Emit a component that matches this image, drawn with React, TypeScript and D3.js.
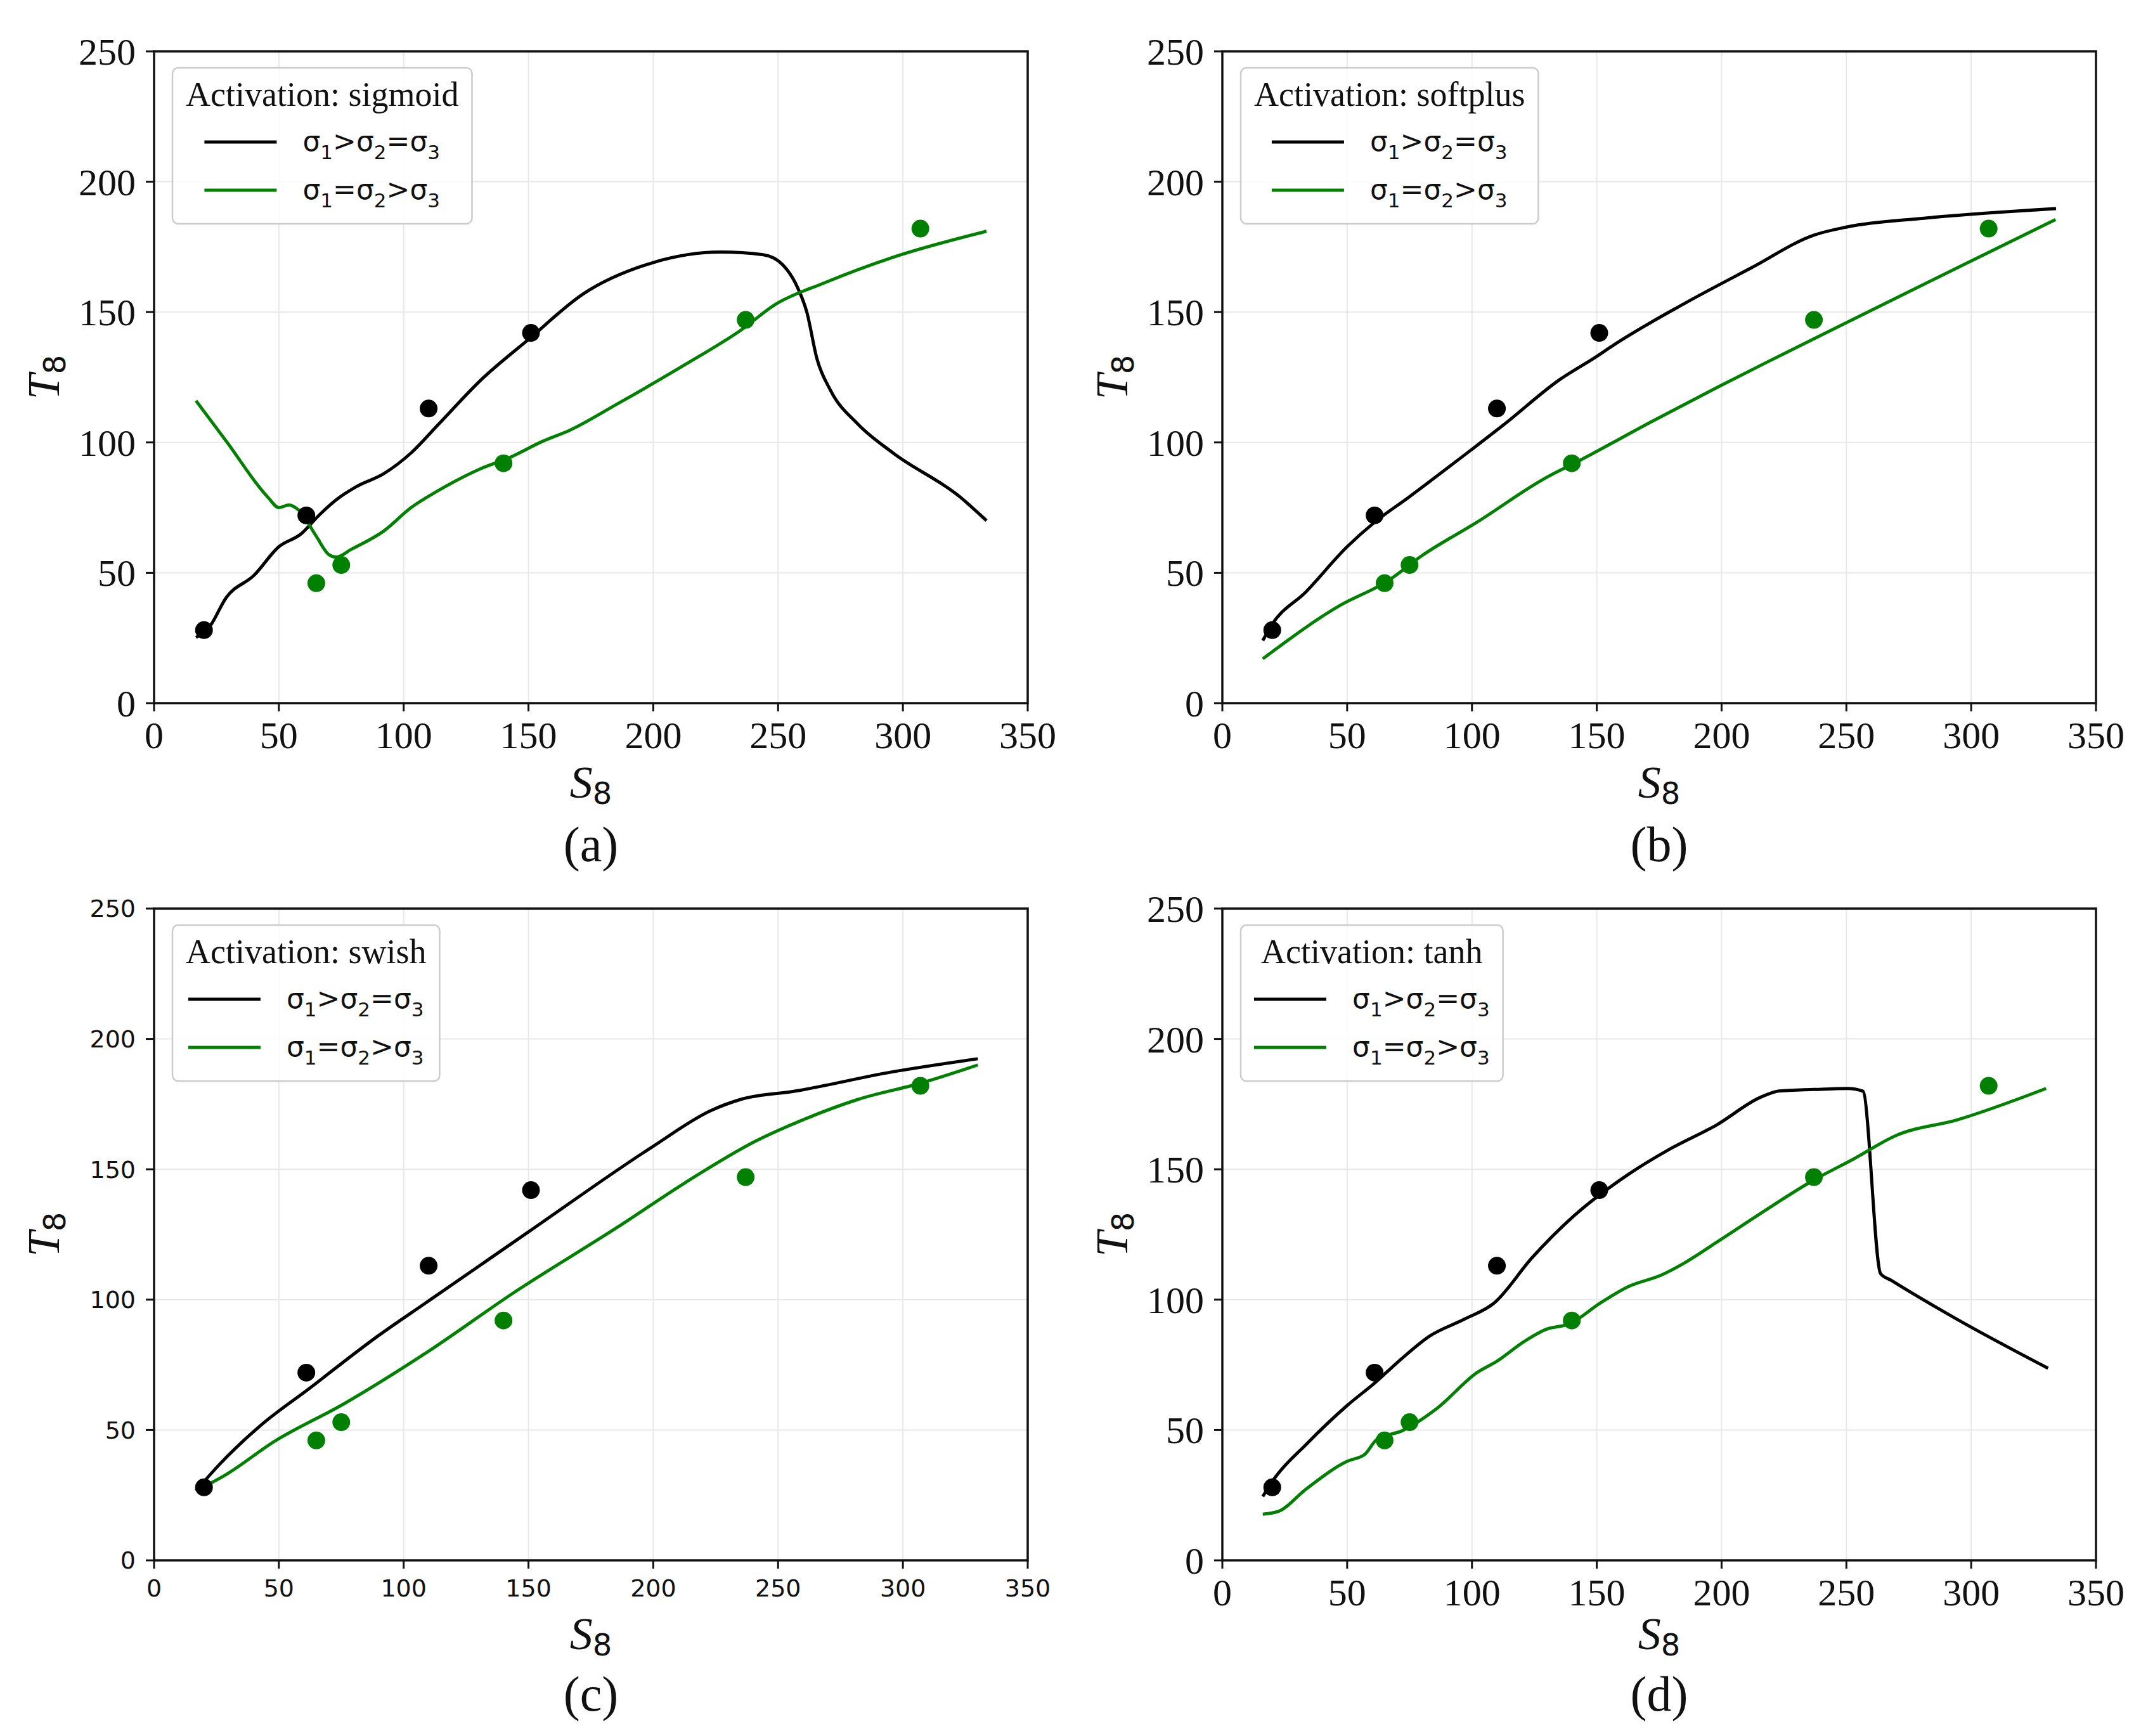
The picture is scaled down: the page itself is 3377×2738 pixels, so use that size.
import { useEffect, useRef } from "react"
import * as d3 from "d3"

const W = 3377
const H = 2738

// measured points (same in every panel)
const blackPtS = [20, 61, 110, 151]
const blackPtT = [28, 72, 113, 142]
const greenPtS = [65, 75, 140, 237, 307]
const greenPtT = [46, 53, 92, 147, 182]

// (a) sigmoid
const sigmoidBlackS = [16.8, 22, 29, 40, 50, 59, 66, 73, 81, 92, 103, 114, 131, 150, 172, 200, 227, 244, 252, 257, 261.5, 265.6, 271, 282, 296, 323, 333.5]
const sigmoidBlackT = [25.2, 29, 40.6, 49, 60, 65, 72, 78, 83, 88, 96, 107, 124, 139.5, 157, 169, 173, 172, 168, 161, 150, 132, 120, 107, 96, 79, 70]
const sigmoidGreenS = [16.8, 29, 45.6, 50, 54, 58, 65, 70, 73, 79, 92, 103, 114, 131, 142, 155.6, 166.6, 186, 213, 235, 249, 268, 296, 333.5]
const sigmoidGreenT = [116, 100.4, 79, 75, 76, 74, 64, 57, 56, 59, 66, 75, 81.6, 90, 94, 100.4, 104.7, 115, 130, 143, 153, 161, 171, 181]

// (b) softplus
const softplusBlackS = [16.2, 19.8, 33.5, 50, 61, 74.7, 99.5, 113, 135, 150, 157, 184.6, 212, 237, 250.5, 281, 334]
const softplusBlackT = [24, 30, 42.7, 60, 69.4, 79, 97, 107, 124, 133, 137.5, 153, 167, 179.5, 182.7, 186, 189.7]
const softplusGreenS = [16.2, 47, 66.5, 80, 102, 129.7, 143, 171, 198, 217.6, 239.6, 267, 294.5, 333.8]
const softplusGreenT = [17, 37.4, 47, 56.6, 69.4, 86.5, 93, 107.5, 121, 130.5, 141, 154, 167, 185.5]

// (c) swish
const swishBlackS = [16.8, 26.4, 43, 62, 89.6, 108.9, 150, 199.6, 223, 235, 257, 296, 330]
const swishBlackT = [26.7, 37, 52, 65.8, 86, 98.8, 126, 158.6, 172.5, 176.8, 180, 187.4, 192.4]
const swishGreenS = [16.8, 29, 48, 76, 109, 144.6, 186, 213, 241, 260, 282, 307, 330]
const swishGreenT = [26.7, 33, 45.5, 60, 79.6, 103, 128, 145, 160.8, 169, 176.8, 183, 190]

// (d) tanh
const tanhBlackS = [16.2, 21, 33.5, 50, 61, 72, 83, 96.7, 109, 124, 140.7, 162.6, 179, 198, 216, 223, 236.8, 250.5, 256.6, 263.7, 268, 294.5, 330.8]
const tanhBlackT = [24.5, 31.6, 44.4, 59.4, 68, 77.5, 86, 92.4, 98.8, 116, 132, 148, 157.6, 167, 177.8, 180, 180.6, 181, 180, 110, 107.4, 92.4, 73.7]
const tanhGreenS = [16.2, 22.5, 33.5, 50, 57, 62, 72, 86, 102, 110, 121, 129.7, 139, 151.6, 162.6, 176, 184.6, 198, 212, 236.8, 253, 270, 294.5, 330]
const tanhGreenT = [17.7, 18.8, 27.3, 38, 40.6, 46.5, 49.7, 58.3, 72, 76.4, 84, 88.6, 90.7, 98.8, 105, 109.5, 113.8, 122, 130.8, 145.8, 154, 163, 169, 181]

const activations = ["sigmoid", "softplus", "swish", "tanh"]
const panelLetters = ["(a)", "(b)", "(c)", "(d)"]
const xTicks = [0, 50, 100, 150, 200, 250, 300, 350]
const yTicks = [0, 50, 100, 150, 200, 250]
const seriesColors = ["#000000", "#008000"]
const legendParts = [
  [["σ", false], ["1", true], [">", false], ["σ", false], ["2", true], ["=", false], ["σ", false], ["3", true]],
  [["σ", false], ["1", true], ["=", false], ["σ", false], ["2", true], [">", false], ["σ", false], ["3", true]],
] as [string, boolean][][]

const SERIF = "'Liberation Serif', 'Times New Roman', serif"
const SANS = "'DejaVu Sans', sans-serif"

const zip = (s: number[], t: number[]) => s.map((v, i) => [v, t[i]] as [number, number])

export default function App() {
  const svgRef = useRef<SVGSVGElement | null>(null)

  useEffect(() => {
    document.body.style.margin = "0"
    if (!svgRef.current) return
    const root = d3.select(svgRef.current)
    root.selectAll("*").remove()
    root.append("rect").attr("width", W).attr("height", H).attr("fill", "white")

    const curves = [
      [zip(sigmoidBlackS, sigmoidBlackT), zip(sigmoidGreenS, sigmoidGreenT)],
      [zip(softplusBlackS, softplusBlackT), zip(softplusGreenS, softplusGreenT)],
      [zip(swishBlackS, swishBlackT), zip(swishGreenS, swishGreenT)],
      [zip(tanhBlackS, tanhBlackT), zip(tanhGreenS, tanhGreenT)],
    ]
    const points = [zip(blackPtS, blackPtT), zip(greenPtS, greenPtT)]

    const pw = 1378
    const ph = 1028
    const lefts = [243, 1928]
    const tops = [81, 1433]

    activations.forEach((act, p) => {
      const x0 = lefts[p % 2]
      const y0 = tops[Math.floor(p / 2)]
      const small = p === 2 // panel (c) uses sans tick labels
      const lower = p >= 2

      const x = d3.scaleLinear().domain([0, 350]).range([x0, x0 + pw])
      const y = d3.scaleLinear().domain([0, 250]).range([y0 + ph, y0])
      const g = root.append("g")

      // grid
      g.selectAll(".gx").data(xTicks).enter().append("line")
        .attr("x1", (d) => x(d)).attr("x2", (d) => x(d))
        .attr("y1", y0).attr("y2", y0 + ph)
        .attr("stroke", "#e8e8e8").attr("stroke-width", 2)
      g.selectAll(".gy").data(yTicks).enter().append("line")
        .attr("y1", (d) => y(d)).attr("y2", (d) => y(d))
        .attr("x1", x0).attr("x2", x0 + pw)
        .attr("stroke", "#e8e8e8").attr("stroke-width", 2)

      // curves
      const line = d3.line<[number, number]>()
        .x((d) => x(d[0]))
        .y((d) => y(d[1]))
        .curve(d3.curveMonotoneX)
      curves[p].forEach((c, i) => {
        g.append("path").attr("d", line(c))
          .attr("fill", "none").attr("stroke", seriesColors[i])
          .attr("stroke-width", 5).attr("stroke-linejoin", "round")
      })

      // points
      points.forEach((pts, i) => {
        g.selectAll(null).data(pts).enter().append("circle")
          .attr("cx", (d) => x(d[0])).attr("cy", (d) => y(d[1]))
          .attr("r", 14).attr("fill", seriesColors[i])
      })

      // spines
      g.append("rect").attr("x", x0).attr("y", y0).attr("width", pw).attr("height", ph)
        .attr("fill", "none").attr("stroke", "#111").attr("stroke-width", 3.5)

      // ticks
      const tickFont = small ? SANS : SERIF
      const tickSize = small ? 38 : 60
      g.selectAll(".tx").data(xTicks).enter().append("line")
        .attr("x1", (d) => x(d)).attr("x2", (d) => x(d))
        .attr("y1", y0 + ph).attr("y2", y0 + ph + 13)
        .attr("stroke", "#111").attr("stroke-width", 3)
      g.selectAll(".txl").data(xTicks).enter().append("text")
        .attr("x", (d) => x(d)).attr("y", y0 + ph + (small ? 57 : 71))
        .attr("text-anchor", "middle").attr("font-family", tickFont).attr("font-size", tickSize)
        .attr("fill", "#111").text((d) => d)
      g.selectAll(".ty").data(yTicks).enter().append("line")
        .attr("y1", (d) => y(d)).attr("y2", (d) => y(d))
        .attr("x1", x0 - 13).attr("x2", x0)
        .attr("stroke", "#111").attr("stroke-width", 3)
      g.selectAll(".tyl").data(yTicks).enter().append("text")
        .attr("x", x0 - 29).attr("y", (d) => y(d)).attr("dy", "0.35em")
        .attr("text-anchor", "end").attr("font-family", tickFont).attr("font-size", tickSize)
        .attr("fill", "#111").text((d) => d)

      // axis labels
      const sLabel = g.append("text")
        .attr("x", x0 + pw / 2).attr("y", y0 + ph + (lower ? 140 : 149))
        .attr("text-anchor", "middle").attr("fill", "#111")
      sLabel.append("tspan").attr("font-family", SERIF).attr("font-style", "italic").attr("font-size", 72).text("S")
      sLabel.append("tspan").attr("font-family", SANS).attr("font-size", 48).attr("dy", 10).text("8")

      const tLabel = g.append("text")
        .attr("transform", `translate(${x0 - 150},${y0 + ph / 2}) rotate(-90)`)
        .attr("text-anchor", "middle").attr("fill", "#111")
      tLabel.append("tspan").attr("font-family", SERIF).attr("font-style", "italic").attr("font-size", 72).text("T")
      tLabel.append("tspan").attr("font-family", SANS).attr("font-size", 48).attr("dy", 10).text("8")

      // panel letter
      g.append("text")
        .attr("x", x0 + pw / 2).attr("y", y0 + ph + (lower ? 237 : 249))
        .attr("text-anchor", "middle").attr("font-family", SERIF).attr("font-size", 78)
        .attr("fill", "#111").text(panelLetters[p])

      // legend
      const lx = x0 + 29
      const ly = y0 + 26
      const lg = g.append("g")
      const box = lg.append("rect")
      const title = lg.append("text")
        .attr("y", ly + 60).attr("text-anchor", "middle")
        .attr("font-family", SERIF).attr("font-size", 54).attr("fill", "#111")
        .text(`Activation: ${act}`)
      const titleW = (title.node() as SVGTextElement).getComputedTextLength()

      const entryTexts = legendParts.map((parts, i) => {
        const t = lg.append("text").attr("y", ly + 117 + i * 76 + 14)
          .attr("font-family", SANS).attr("font-size", 44).attr("fill", "#111")
        let cur = 0
        parts.forEach(([s, sub]) => {
          const target = sub ? 13 : 0
          t.append("tspan").attr("font-size", sub ? 31 : 44)
            .attr("dy", target - cur).text(s)
          cur = target
        })
        return t
      })
      const textW = d3.max(entryTexts, (t) => (t.node() as SVGTextElement).getComputedTextLength()) ?? 223
      const entryW = 114 + 41 + textW
      const boxW = Math.max(titleW, entryW) + 42
      box.attr("x", lx).attr("y", ly).attr("width", boxW).attr("height", 246)
        .attr("rx", 9).attr("fill", "white").attr("fill-opacity", 0.8)
        .attr("stroke", "#cccccc").attr("stroke-width", 2.5)
      title.attr("x", lx + boxW / 2)
      const ex = lx + (boxW - entryW) / 2
      entryTexts.forEach((t, i) => {
        lg.append("line")
          .attr("x1", ex).attr("x2", ex + 114)
          .attr("y1", ly + 117 + i * 76).attr("y2", ly + 117 + i * 76)
          .attr("stroke", seriesColors[i]).attr("stroke-width", 5)
        t.attr("x", ex + 155)
      })
    })
  }, [])

  return <svg ref={svgRef} width={W} height={H} style={{ display: "block" }}></svg>
}
